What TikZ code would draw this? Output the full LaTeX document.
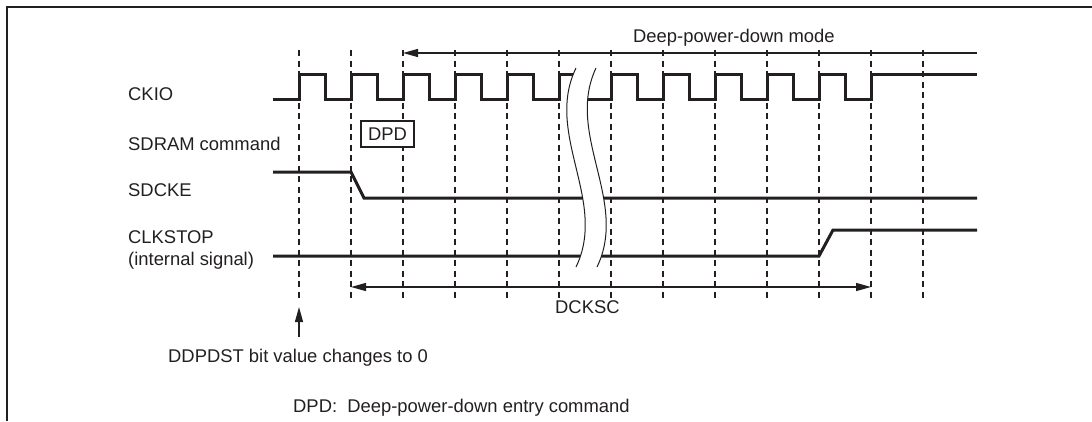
\documentclass[tikz,border=0pt]{standalone}
\usepackage{fontspec}
\setmainfont{Liberation Sans}
\usetikzlibrary{arrows.meta,calc}
\definecolor{InkBlack}{RGB}{35,31,32}

\begin{document}
\begin{tikzpicture}[x=1pt,y=-1pt,
  sig/.style={line width=3pt, InkBlack},
  tick/.style={line width=1.4pt, InkBlack, dash pattern=on 6pt off 4.5pt},
  dim/.style={line width=1.3pt, InkBlack},
  tip/.tip={Triangle[length=15pt,width=8pt]},
  lbl/.style={anchor=base west, inner sep=0pt, text=InkBlack, font=\fontsize{18.4pt}{22pt}\selectfont}]
\useasboundingbox (0,0) rectangle (1092,421);

% Frame
\draw[line width=2.4pt, InkBlack] (1092,7) -- (7,7) -- (7,421);

% Clock edges
\foreach \k in {0,...,12}
  \draw[tick] ({299+52*\k},50) -- ({299+52*\k},298);

% Signal names
\node[lbl] (ckio)  at (128,100) {CKIO};
\node[lbl] (sdcmd) at (128,150) {SDRAM command};
\node[lbl] (sdcke) at (128,196.5) {SDCKE};
\node[lbl] (clkst) at (128,243.5) {CLKSTOP};
\node[lbl] (intsig) at (128,265) {(internal signal)};

% CKIO
\draw[sig] (273,99)
  \foreach \k in {0,...,10} {
    -- ({299+52*\k},99) -- ({299+52*\k},74) -- ({325+52*\k},74) -- ({325+52*\k},99)
  }
  -- (871,99) -- (871,74) -- (977,74);

% SDRAM command
\node[draw=InkBlack, fill=white, text=InkBlack, line width=2.6pt, minimum width=53pt,
  minimum height=26pt, inner sep=0pt, font=\fontsize{18.4pt}{22pt}\selectfont] (dpd) at (387.5,134) {DPD};

% SDCKE
\draw[sig] (273,172) -- (351,172) -- (364,198) -- (977,198);

% CLKSTOP
\draw[sig] (273,256) -- (819,256) -- (833,230) -- (977,230);

% Time break
\fill[white] (576,68) .. controls (544,134) and (608,201) .. (576,267)
  -- (597,267) .. controls (629,201) and (565,134) .. (596,68) -- cycle;
\draw[line width=1pt, InkBlack] (576,68) .. controls (544,134) and (608,201) .. (576,267);
\draw[line width=1pt, InkBlack] (596,68) .. controls (565,134) and (629,201) .. (597,267);

% Deep-power-down mode
\coordinate (dpm end) at (977,53);
\coordinate (dpm start) at (403,53);
\draw[dim, -tip] (dpm end) -- (dpm start);
\node[lbl] (dpm) at (633,42) {Deep-power-down mode};

% DCKSC
\coordinate (dck a) at (351,287);
\coordinate (dck b) at (871,287);
\draw[dim, tip-tip] (dck a) -- (dck b);
\node[lbl] (dcksc) at (555,313) {DCKSC};

% DDPDST
\coordinate (bit foot) at (299,337);
\coordinate (bit tip) at (299,307);
\draw[dim, -tip] (bit foot) -- (bit tip);
\node[lbl] (bitnote) at (168,362) {DDPDST bit value changes to 0};

% Note
\node[lbl] (note) at (293,412) {DPD:\ \ Deep-power-down entry command};
\end{tikzpicture}
\end{document}
